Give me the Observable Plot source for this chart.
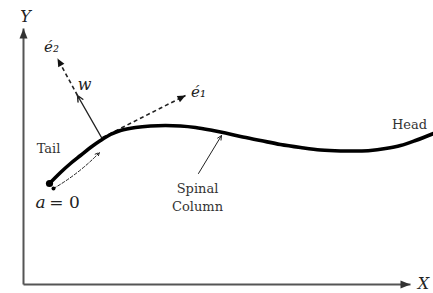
<!DOCTYPE html>
<html>
<head>
<meta charset="utf-8">
<script src="https://cdn.jsdelivr.net/npm/d3@7"></script>
<script src="https://cdn.jsdelivr.net/npm/@observablehq/plot@0.6"></script>
<style>
  html, body { margin: 0; padding: 0; background: #fff; }
  #chart svg { display: block; }
</style>
</head>
<body>
<div id="chart"></div>
<script>
// Diagram coordinates: origin at the corner of the X/Y axes, Y pointing up.
const spineX = [26, 37, 47, 57, 67, 77, 87, 97, 112, 127, 142, 157, 172, 187, 202, 217, 237, 257, 277, 297, 317, 332, 347, 362, 377, 392, 410];
const spineY = [101, 112, 121, 129, 137, 144, 150, 154, 157, 158.5, 159, 158.5, 157, 154.5, 151.5, 148, 144, 140, 137, 134.5, 133.5, 133.5, 134, 136, 139, 144, 151];

// Axes
const axisNames = ["Y", "X"];
const axisX1 = [0, 0], axisY1 = [0, 0], axisX2 = [0, 387], axisY2 = [256, 0];

// Frame vectors drawn dashed with filled heads
const vecNames = ["e2", "e1"];
const vecX1 = [54, 79], vecY1 = [189, 147], vecX2 = [34, 162], vecY2 = [226, 189];

// Open-headed arrows: w (normal), spinal pointer, arc-length arrow
const arrowNames = ["w", "spinal", "arc"];
const arrowX1 = [78, 175, 30], arrowY1 = [147, 111, 96];
const arrowX2 = [54, 198, 76], arrowY2 = [189, 149, 132];
const arrowDash = ["none", "none", "3,2"];
const arrowWidth = [1.4, 1, 1];
const arrowBend = [0, 0, -8];

// Points
const dotX = [26, 30], dotY = [101, 96], dotR = [3.6, 2];

// Labels
const labelText = ["Y", "X", "é₂", "w", "é₁", "a", "= 0"];
const labelX = [2, 400, 28, 61, 175, 17, 41];
const labelY = [268, 1, 237, 200, 192, 82, 82];
const labelItalic = [true, true, true, true, true, true, false];
const labelSize = [16, 16, 15, 16, 15, 17, 17];

const wordText = ["Tail", "Spinal\nColumn", "Head"];
const wordX = [25, 174, 386];
const wordY = [137, 88, 161];

const spine = spineX.map((x, i) => ({x, y: spineY[i]}));
const axes = axisNames.map((n, i) => ({n, x1: axisX1[i], y1: axisY1[i], x2: axisX2[i], y2: axisY2[i]}));
const vecs = vecNames.map((n, i) => ({n, x1: vecX1[i], y1: vecY1[i], x2: vecX2[i], y2: vecY2[i]}));
const arrows = arrowNames.map((n, i) => ({n, x1: arrowX1[i], y1: arrowY1[i], x2: arrowX2[i], y2: arrowY2[i], dash: arrowDash[i], w: arrowWidth[i], bend: arrowBend[i]}));
const dots = dotX.map((x, i) => ({x, y: dotY[i], r: dotR[i]}));
const labels = labelText.map((t, i) => ({t, x: labelX[i], y: labelY[i], it: labelItalic[i], s: labelSize[i]}));
const words = wordText.map((t, i) => ({t, x: wordX[i], y: wordY[i]}));

const angle = d => Math.atan2(d.x2 - d.x1, d.y2 - d.y1) * 180 / Math.PI;
const head = (len, half) => ({draw(ctx) { ctx.moveTo(0, 0); ctx.lineTo(-half, len); ctx.lineTo(half, len); ctx.closePath(); }});
const axisHead = head(10, 4);
const vecHead = head(8, 3.5);

const serif = "DejaVu Serif, Liberation Serif, serif";

const marks = [
  Plot.link(axes, {x1: "x1", y1: "y1", x2: "x2", y2: "y2", stroke: "#555", strokeWidth: 2}),
  Plot.dot(axes, {x: "x2", y: "y2", symbol: axisHead, r: 4, fill: "#333", stroke: "none", rotate: angle}),
  Plot.link(vecs, {x1: "x1", y1: "y1", x2: "x2", y2: "y2", stroke: "#222", strokeWidth: 1.6, strokeDasharray: "4,3"}),
  Plot.dot(vecs, {x: "x2", y: "y2", symbol: vecHead, r: 4, fill: "#111", stroke: "none", rotate: angle}),
  ...arrows.map(a => Plot.arrow([a], {x1: "x1", y1: "y1", x2: "x2", y2: "y2", stroke: "#222", strokeWidth: a.w, strokeDasharray: a.dash, bend: a.bend, headLength: 7, headAngle: 50})),
  Plot.line(spine, {x: "x", y: "y", curve: "catmull-rom", stroke: "#000", strokeWidth: 3.6, strokeLinecap: "round"}),
  Plot.dot(dots, {x: "x", y: "y", r: "r", fill: "#000", stroke: "none"}),
  ...labels.map(l => Plot.text([l], {x: "x", y: "y", text: "t", fontFamily: serif, fontStyle: l.it ? "italic" : "normal", fontSize: l.s, fill: "#222"})),
  Plot.text(words, {x: "x", y: "y", text: "t", fontFamily: serif, fontSize: 13, lineHeight: 1.35, fill: "#333"})
];

const chart = Plot.plot({
  width: 433,
  height: 293,
  margin: 0,
  x: {domain: [-23, 410], range: [0, 433], axis: null},
  y: {domain: [-9, 284], range: [293, 0], axis: null},
  r: {type: "identity"},
  marks
});
document.getElementById("chart").appendChild(chart);
</script>
</body>
</html>
